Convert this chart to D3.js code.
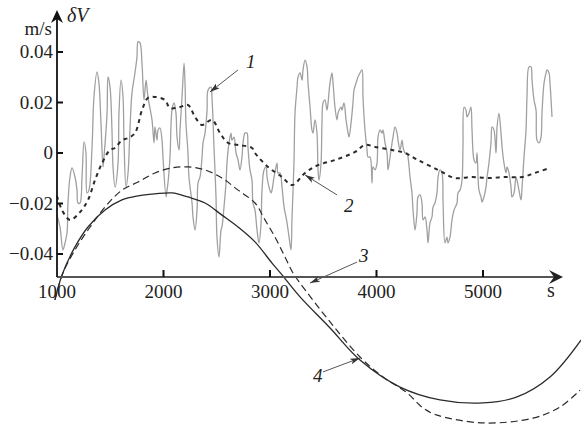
<!DOCTYPE html>
<html><head><meta charset="utf-8">
<script src="https://cdn.jsdelivr.net/npm/d3@7"></script>
<style>body{margin:0;background:#fff}</style>
</head><body><svg id="c" width="581" height="428" font-family="'Liberation Serif', 'Times New Roman', Times, serif"></svg>
<script>
// ---- data (time in s, δV in m/s) ----
const xTicks = [1000, 2000, 3000, 4000, 5000];
const yTicks = [0.04, 0.02, 0, -0.02, -0.04];
const yTickLabels = ["0.04", "0.02", "0", "\u22120.02", "\u22120.04"];

// curve 1 (measured, noisy)
const c1t = [1000,1028,1056,1075,1094,1103,1122,1141,1169,1188,1197,1216,1235,1254,1272,1282,1300,1329,1347,1376,1394,1413,1432,1441,1470,1479,1498,1516,1526,1545,1573,1582,1601,1620,1629,1648,1667,1685,1704,1732,1751,1761,1779,1798,1817,1836,1854,1892,1911,1920,1939,1949,1967,1986,1995,2024,2033,2042,2061,2080,2099,2117,2127,2146,2155,2174,2193,2202,2211,2230,2239,2268,2277,2296,2315,2324,2343,2362,2371,2390,2409,2418,2446,2455,2474,2493,2502,2521,2540,2549,2568,2587,2596,2615,2634,2643,2662,2681,2700,2718,2737,2747,2765,2784,2793,2812,2831,2840,2859,2878,2897,2916,2925,2944,2963,2972,2991,3010,3019,3038,3066,3075,3094,3113,3132,3150,3160,3179,3197,3207,3225,3235,3254,3263,3282,3301,3310,3329,3348,3357,3376,3394,3404,3423,3441,3451,3460,3479,3488,3498,3516,3535,3545,3563,3582,3592,3610,3629,3639,3667,3676,3695,3714,3733,3742,3761,3779,3789,3817,3826,3845,3864,3873,3892,3911,3920,3939,3958,3967,3986,4005,4014,4033,4052,4061,4080,4099,4108,4127,4146,4155,4174,4193,4202,4221,4240,4249,4268,4287,4296,4315,4333,4343,4362,4380,4390,4409,4427,4437,4456,4474,4484,4502,4521,4531,4549,4568,4578,4596,4615,4625,4643,4662,4671,4690,4709,4728,4756,4765,4784,4803,4812,4822,4840,4850,4869,4887,4897,4916,4934,4944,4962,4981,4991,5009,5028,5038,5056,5075,5085,5103,5122,5132,5150,5169,5179,5197,5216,5226,5244,5263,5272,5291,5310,5319,5338,5357,5367,5385,5404,5413,5432,5451,5460,5479,5498,5507,5526,5545,5554,5573,5592,5601,5620,5629,5648];
const c1v = [-0.0246,-0.0293,-0.0384,-0.0356,-0.0317,-0.0198,-0.0095,-0.0059,-0.0095,-0.0147,-0.0198,-0.0198,-0.0095,0.0044,0.0000,-0.0158,-0.0147,0.0024,0.0222,0.0321,0.0277,0.0119,-0.0055,-0.0016,0.0158,0.0301,0.0261,0.0091,-0.0055,-0.0135,-0.0040,0.0158,0.0289,0.0222,0.0051,-0.0135,-0.0079,0.0091,0.0238,0.0317,0.0380,0.0440,0.0436,0.0356,0.0210,0.0289,0.0222,0.0131,0.0040,0.0103,0.0051,0.0091,0.0099,0.0051,-0.0016,-0.0174,-0.0147,-0.0119,-0.0016,0.0170,0.0198,0.0158,0.0063,0.0012,0.0091,0.0222,0.0356,0.0277,0.0119,0.0000,-0.0095,-0.0198,-0.0253,-0.0305,-0.0226,-0.0119,-0.0095,-0.0016,0.0040,0.0079,0.0170,0.0249,0.0261,0.0222,0.0024,-0.0174,-0.0333,-0.0412,-0.0305,-0.0293,-0.0214,-0.0119,-0.0040,0.0040,0.0079,0.0051,0.0063,0.0000,-0.0028,-0.0067,-0.0016,0.0040,0.0079,0.0079,0.0024,-0.0067,-0.0107,-0.0198,-0.0226,-0.0305,-0.0356,-0.0277,-0.0147,-0.0067,-0.0055,-0.0095,-0.0135,-0.0158,-0.0147,-0.0095,-0.0040,-0.0079,-0.0079,-0.0135,-0.0214,-0.0253,-0.0277,-0.0333,-0.0384,-0.0253,-0.0040,0.0158,0.0261,0.0301,0.0317,0.0289,0.0329,0.0368,0.0341,0.0277,0.0182,0.0091,0.0079,0.0131,0.0079,-0.0067,-0.0107,-0.0040,0.0119,0.0198,0.0210,0.0170,0.0198,0.0277,0.0317,0.0277,0.0182,0.0131,0.0158,0.0182,0.0170,0.0198,0.0131,0.0079,0.0063,0.0119,0.0198,0.0249,0.0289,0.0301,0.0317,0.0329,0.0222,0.0091,0.0012,-0.0016,-0.0016,-0.0119,-0.0055,-0.0067,-0.0040,0.0063,0.0091,0.0079,0.0091,0.0040,0.0000,-0.0067,-0.0016,0.0040,0.0063,0.0103,0.0079,0.0051,0.0012,0.0051,0.0024,0.0000,0.0000,-0.0016,-0.0095,-0.0158,-0.0226,-0.0305,-0.0238,-0.0174,-0.0166,-0.0198,-0.0265,-0.0253,-0.0305,-0.0356,-0.0277,-0.0253,-0.0214,-0.0198,-0.0158,-0.0095,-0.0067,-0.0079,-0.0198,-0.0356,-0.0333,-0.0356,-0.0333,-0.0265,-0.0226,-0.0198,-0.0158,-0.0147,-0.0107,0.0024,0.0182,0.0170,0.0143,0.0158,0.0182,0.0091,-0.0028,-0.0040,0.0000,-0.0147,-0.0174,-0.0194,-0.0174,-0.0135,-0.0095,-0.0040,0.0040,0.0103,0.0091,0.0000,0.0103,0.0158,0.0079,0.0024,-0.0040,-0.0079,-0.0055,-0.0079,-0.0135,-0.0174,-0.0158,-0.0095,-0.0107,-0.0147,-0.0186,-0.0135,-0.0016,0.0091,0.0222,0.0341,0.0341,0.0289,0.0210,0.0170,0.0051,0.0040,0.0063,0.0158,0.0277,0.0317,0.0329,0.0317,0.0277,0.0143];

// curve 2 (bold short dashes)
const c2t = [1000,1047,1122,1216,1291,1357,1423,1498,1545,1610,1667,1732,1798,1854,1920,2014,2061,2155,2230,2296,2362,2455,2531,2606,2700,2831,2859,2981,3113,3207,3329,3451,3610,3798,3892,3986,4146,4268,4390,4578,4737,4897,5047,5207,5366,5488,5629];
const c2v = [-0.0170,-0.0226,-0.0265,-0.0234,-0.0186,-0.0107,-0.0040,0.0012,0.0020,0.0051,0.0059,0.0079,0.0170,0.0218,0.0222,0.0210,0.0178,0.0182,0.0190,0.0143,0.0111,0.0131,0.0079,0.0040,0.0032,0.0020,0.0000,-0.0055,-0.0095,-0.0127,-0.0079,-0.0048,-0.0028,0.0004,0.0032,0.0024,0.0012,0.0000,-0.0028,-0.0067,-0.0099,-0.0095,-0.0099,-0.0095,-0.0095,-0.0079,-0.0059];

// curve 3 (long dashes)
const c3t = [981,1056,1169,1291,1451,1610,1761,1920,2080,2230,2390,2549,2700,2859,2953,3047,3141,3216,3282,3564,3845,4061,4287,4437,4568,5000,5470,5723,5911];
const c3v = [-0.0582,-0.0475,-0.0384,-0.0305,-0.0214,-0.0147,-0.0115,-0.0079,-0.0059,-0.0055,-0.0067,-0.0099,-0.0147,-0.0198,-0.0265,-0.0333,-0.0412,-0.0475,-0.0515,-0.0669,-0.0808,-0.0887,-0.0950,-0.1010,-0.1038,-0.1069,-0.1050,-0.1006,-0.0939];

// curve 4 (solid)
const c4t = [981,1047,1169,1291,1451,1610,1761,1920,2080,2230,2390,2549,2700,2859,3019,3113,3282,3564,3845,4221,4596,5000,5319,5629,5920];
const c4v = [-0.0582,-0.0483,-0.0372,-0.0293,-0.0226,-0.0186,-0.0170,-0.0162,-0.0158,-0.0174,-0.0198,-0.0246,-0.0293,-0.0352,-0.0436,-0.0483,-0.0570,-0.0693,-0.0820,-0.0927,-0.0978,-0.0990,-0.0966,-0.0887,-0.0741];

// curve annotations: label, text anchor (t,v), arrow from (t,v) to (t,v)
const annotations = [
  {label:"1", tx:2775, tv:0.0337, x1:2700, v1:0.0329, x2:2437, v2:0.0242},
  {label:"2", tx:3695, tv:-0.0234, x1:3629, v1:-0.0166, x2:3329, v2:-0.0087},
  {label:"3", tx:3836, tv:-0.0432, x1:3817, v1:-0.0432, x2:3376, v2:-0.0515},
  {label:"4", tx:3404, tv:-0.0907, x1:3498, v1:-0.0867, x2:3845, v2:-0.0812}
];

// ---- drawing ----
const FONT = "'Liberation Serif', 'Times New Roman', Times, serif";
const svg = d3.select("#c");
const x = d3.scaleLinear().domain([1000, 5000]).range([57, 483]);
const y = d3.scaleLinear().domain([-0.04, 0.04]).range([254, 52]);
const axisY = 277, axisTopY = 10, axisRightX = 563, x0 = x(1000);

const defs = svg.append("defs");
defs.append("marker").attr("id","ah").attr("viewBox","0 0 10 6")
  .attr("refX",10).attr("refY",3).attr("markerWidth",10).attr("markerHeight",6)
  .attr("markerUnits","userSpaceOnUse").attr("orient","auto")
  .append("path").attr("d","M0,0L10,3L0,6L2.5,3Z").attr("fill","#333");

const smooth = d3.line().x(d=>x(d[0])).y(d=>y(d[1])).curve(d3.curveCatmullRom.alpha(0.5));
const zip = (a,b)=>a.map((v,i)=>[v,b[i]]);

svg.append("path").datum(zip(c1t,c1v)).attr("d",smooth)
  .attr("fill","none").attr("stroke","#a0a0a0").attr("stroke-width",1.3).attr("stroke-linejoin","round");
svg.append("path").datum(zip(c2t,c2v)).attr("d",smooth)
  .attr("fill","none").attr("stroke","#2a2a2a").attr("stroke-width",2).attr("stroke-dasharray","4,4");
svg.append("path").datum(zip(c3t,c3v)).attr("d",smooth)
  .attr("fill","none").attr("stroke","#2a2a2a").attr("stroke-width",1.2).attr("stroke-dasharray","7,4");
svg.append("path").datum(zip(c4t,c4v)).attr("d",smooth)
  .attr("fill","none").attr("stroke","#2a2a2a").attr("stroke-width",1.3);

// axes
svg.append("line").attr("x1",x0).attr("x2",axisRightX-6).attr("y1",axisY).attr("y2",axisY)
  .attr("stroke","#555").attr("stroke-width",2.2);
svg.append("path").attr("d",`M${axisRightX},${axisY}L${axisRightX-14},${axisY-7}L${axisRightX-9},${axisY}L${axisRightX-14},${axisY+7}Z`).attr("fill","#222");
svg.append("line").attr("x1",x0).attr("x2",x0).attr("y1",axisY).attr("y2",axisTopY+6)
  .attr("stroke","#111").attr("stroke-width",1.8);
svg.append("path").attr("d",`M${x0},${axisTopY}L${x0-6},${axisTopY+13}L${x0},${axisTopY+9}L${x0+6},${axisTopY+13}Z`).attr("fill","#111");

// x ticks
svg.selectAll(".xt").data(xTicks.slice(1)).enter().append("line")
  .attr("x1",d=>x(d)).attr("x2",d=>x(d)).attr("y1",axisY).attr("y2",axisY-7)
  .attr("stroke","#111").attr("stroke-width",2);
svg.selectAll(".xl").data(xTicks).enter().append("text").attr("font-family",FONT).attr("fill","#222")
  .attr("x",d=>x(d)).attr("y",298).attr("text-anchor","middle").attr("font-size",19).text(d=>d);
// y ticks
svg.selectAll(".yt").data(yTicks).enter().append("line")
  .attr("x1",x0).attr("x2",x0+6).attr("y1",d=>y(d)).attr("y2",d=>y(d))
  .attr("stroke","#111").attr("stroke-width",2);
svg.selectAll(".yl").data(yTicks).enter().append("text").attr("font-family",FONT).attr("fill","#222")
  .attr("x",53).attr("y",d=>y(d)+6).attr("text-anchor","end").attr("font-size",19)
  .text((d,i)=>yTickLabels[i]);

// axis titles
svg.append("text").attr("font-family",FONT).attr("fill","#222").attr("x",52).attr("y",35).attr("text-anchor","end").attr("font-size",19).text("m/s");
svg.append("text").attr("font-family",FONT).attr("fill","#222").attr("x",67).attr("y",22).attr("font-size",20).attr("font-style","italic").text("\u03b4V");
svg.append("text").attr("font-family",FONT).attr("fill","#222").attr("x",547).attr("y",297).attr("font-size",20).text("s");

// annotations
const ann = svg.selectAll(".ann").data(annotations).enter().append("g");
ann.append("line").attr("x1",d=>x(d.x1)).attr("y1",d=>y(d.v1)).attr("x2",d=>x(d.x2)).attr("y2",d=>y(d.v2))
  .attr("stroke","#555").attr("stroke-width",1).attr("marker-end","url(#ah)");
ann.append("text").attr("font-family",FONT).attr("fill","#222").attr("x",d=>x(d.tx)).attr("y",d=>y(d.tv)).attr("font-size",19)
  .attr("font-style","italic").text(d=>d.label);
</script></body></html>
